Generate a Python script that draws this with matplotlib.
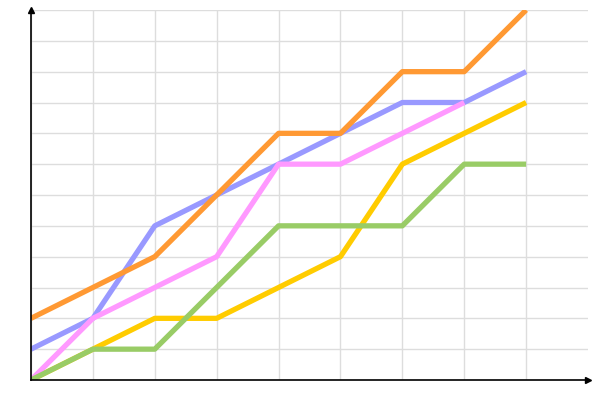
import numpy as np
import matplotlib
matplotlib.use("Agg")
import matplotlib.pyplot as plt

x = [0, 1, 2, 3, 4, 5, 6, 7, 8]

# series values
pink = [0, 2, 3, 4, 7, 7, 8, 9, np.nan]
yellow = [0, 1, 2, 2, 3, 4, 7, 8, 9]
blue = [1, 2, 5, 6, 7, 8, 9, 9, 10]
green = [0, 1, 1, 3, 5, 5, 5, 7, 7]
orange = [2, 3, 4, 6, 8, 8, 10, 10, 12]

fig = plt.figure(figsize=(6, 4), dpi=100)
ax = fig.add_axes([31 / 600, 20 / 400, 557 / 600, 370 / 400])

ax.plot(x, yellow, color="#ffcc00", lw=3.8, solid_capstyle="butt")
ax.plot(x, blue, color="#9999ff", lw=3.8, solid_capstyle="butt")
ax.plot(x, pink, color="#ff99ff", lw=3.8, solid_capstyle="butt")
ax.plot(x, green, color="#99cc66", lw=3.8, solid_capstyle="butt")
ax.plot(x, orange, color="#ff9933", lw=3.8, solid_capstyle="butt")

ax.set_xlim(0, 9)
ax.set_ylim(0, 12)
ax.set_xticks(range(0, 9))
ax.set_yticks(range(0, 13))
ax.tick_params(length=0, labelbottom=False, labelleft=False)
ax.grid(True, color="#dddddd", lw=1)
ax.set_axisbelow(True)

for s in ["top", "right"]:
    ax.spines[s].set_visible(False)
for s in ["left", "bottom"]:
    ax.spines[s].set_color("black")
    ax.spines[s].set_linewidth(1.2)

# arrow heads on the axes
ax.plot([0], [12], marker="^", color="black", ms=5, clip_on=False)
ax.plot([9], [0], marker=">", color="black", ms=5, clip_on=False)

fig.savefig("out.png")
